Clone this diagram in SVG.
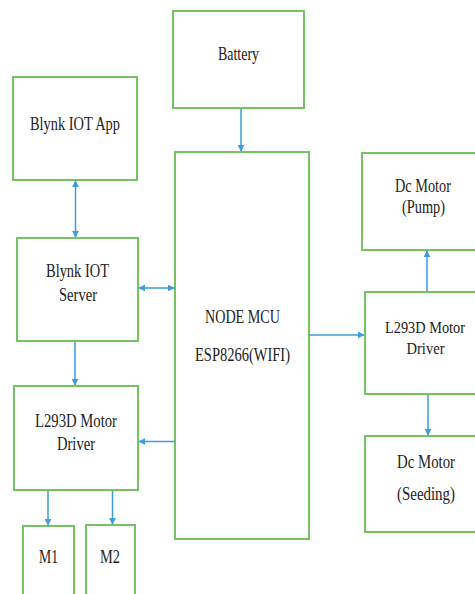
<svg xmlns="http://www.w3.org/2000/svg" width="475" height="594" viewBox="0 0 475 594">
<style>
.box{fill:#ffffff;stroke:#74c465;stroke-width:2}
.t{font-family:'Liberation Serif','Times New Roman',serif;font-size:18px;fill:#222;text-anchor:middle}
.s{font-size:17px}
.c{stroke:#3d9be0;stroke-width:1.5;fill:none}
</style>
<defs>
<marker id="ah" viewBox="0 0 10 10" refX="9" refY="5" markerWidth="7" markerHeight="7" markerUnits="userSpaceOnUse" orient="auto-start-reverse">
<path d="M0,0 L10,5 L0,10 z" fill="#3d9be0"/>
</marker>
</defs>
<rect width="475" height="594" fill="#ffffff"/>
<g id="battery"><rect class="box" x="173" y="11" width="131" height="97"/><text class="t" x="238.5" y="60" textLength="41" lengthAdjust="spacingAndGlyphs">Battery</text></g>
<g id="blynk-app"><rect class="box" x="13" y="77" width="124" height="103"/><text class="t" x="75" y="130" textLength="90" lengthAdjust="spacingAndGlyphs">Blynk IOT App</text></g>
<g id="nodemcu"><rect class="box" x="175" y="152" width="134" height="387"/><text class="t" x="242.5" y="323" textLength="75" lengthAdjust="spacingAndGlyphs">NODE MCU</text><text class="t" x="242.5" y="361" textLength="95" lengthAdjust="spacingAndGlyphs">ESP8266(WIFI)</text></g>
<g id="dc-pump"><rect class="box" x="362" y="153" width="120" height="97"/><text class="t" x="423" y="192" textLength="56" lengthAdjust="spacingAndGlyphs">Dc Motor</text><text class="t" x="423.5" y="213" textLength="43" lengthAdjust="spacingAndGlyphs">(Pump)</text></g>
<g id="blynk-server"><rect class="box" x="17" y="238" width="121" height="103"/><text class="t" x="77.5" y="277" textLength="63" lengthAdjust="spacingAndGlyphs">Blynk IOT</text><text class="t" x="78" y="301" textLength="38" lengthAdjust="spacingAndGlyphs">Server</text></g>
<g id="driver-left"><rect class="box" x="14" y="386" width="124" height="104"/><text class="t" x="76" y="427" textLength="82" lengthAdjust="spacingAndGlyphs">L293D Motor</text><text class="t" x="76" y="450" textLength="38" lengthAdjust="spacingAndGlyphs">Driver</text></g>
<g id="driver-right"><rect class="box" x="365" y="292" width="117" height="102"/><text class="t s" x="425" y="333" textLength="80" lengthAdjust="spacingAndGlyphs">L293D Motor</text><text class="t s" x="425.5" y="354" textLength="38" lengthAdjust="spacingAndGlyphs">Driver</text></g>
<g id="dc-seeding"><rect class="box" x="365" y="436" width="117" height="96"/><text class="t" x="426" y="468" textLength="58" lengthAdjust="spacingAndGlyphs">Dc Motor</text><text class="t" x="426" y="500" textLength="58" lengthAdjust="spacingAndGlyphs">(Seeding)</text></g>
<g id="m1"><rect class="box" x="23" y="526" width="51" height="80"/><text class="t" x="48.5" y="563" textLength="19" lengthAdjust="spacingAndGlyphs">M1</text></g>
<g id="m2"><rect class="box" x="86" y="525" width="49" height="80"/><text class="t" x="110" y="563" textLength="20" lengthAdjust="spacingAndGlyphs">M2</text></g>
<g id="connectors">
<line class="c" x1="241" y1="109" x2="241" y2="151" marker-end="url(#ah)"/>
<line class="c" x1="75.5" y1="181" x2="75.5" y2="237" marker-start="url(#ah)" marker-end="url(#ah)"/>
<line class="c" x1="139" y1="288" x2="174" y2="288" marker-start="url(#ah)" marker-end="url(#ah)"/>
<line class="c" x1="75" y1="342" x2="75" y2="385" marker-end="url(#ah)"/>
<line class="c" x1="175" y1="441.5" x2="139" y2="441.5" marker-end="url(#ah)"/>
<line class="c" x1="48" y1="491" x2="48" y2="525" marker-end="url(#ah)"/>
<line class="c" x1="112.5" y1="491" x2="112.5" y2="524" marker-end="url(#ah)"/>
<line class="c" x1="309" y1="335" x2="364" y2="335" marker-end="url(#ah)"/>
<line class="c" x1="427" y1="291" x2="427" y2="251" marker-end="url(#ah)"/>
<line class="c" x1="428" y1="395" x2="428" y2="435" marker-end="url(#ah)"/>
</g>
</svg>
